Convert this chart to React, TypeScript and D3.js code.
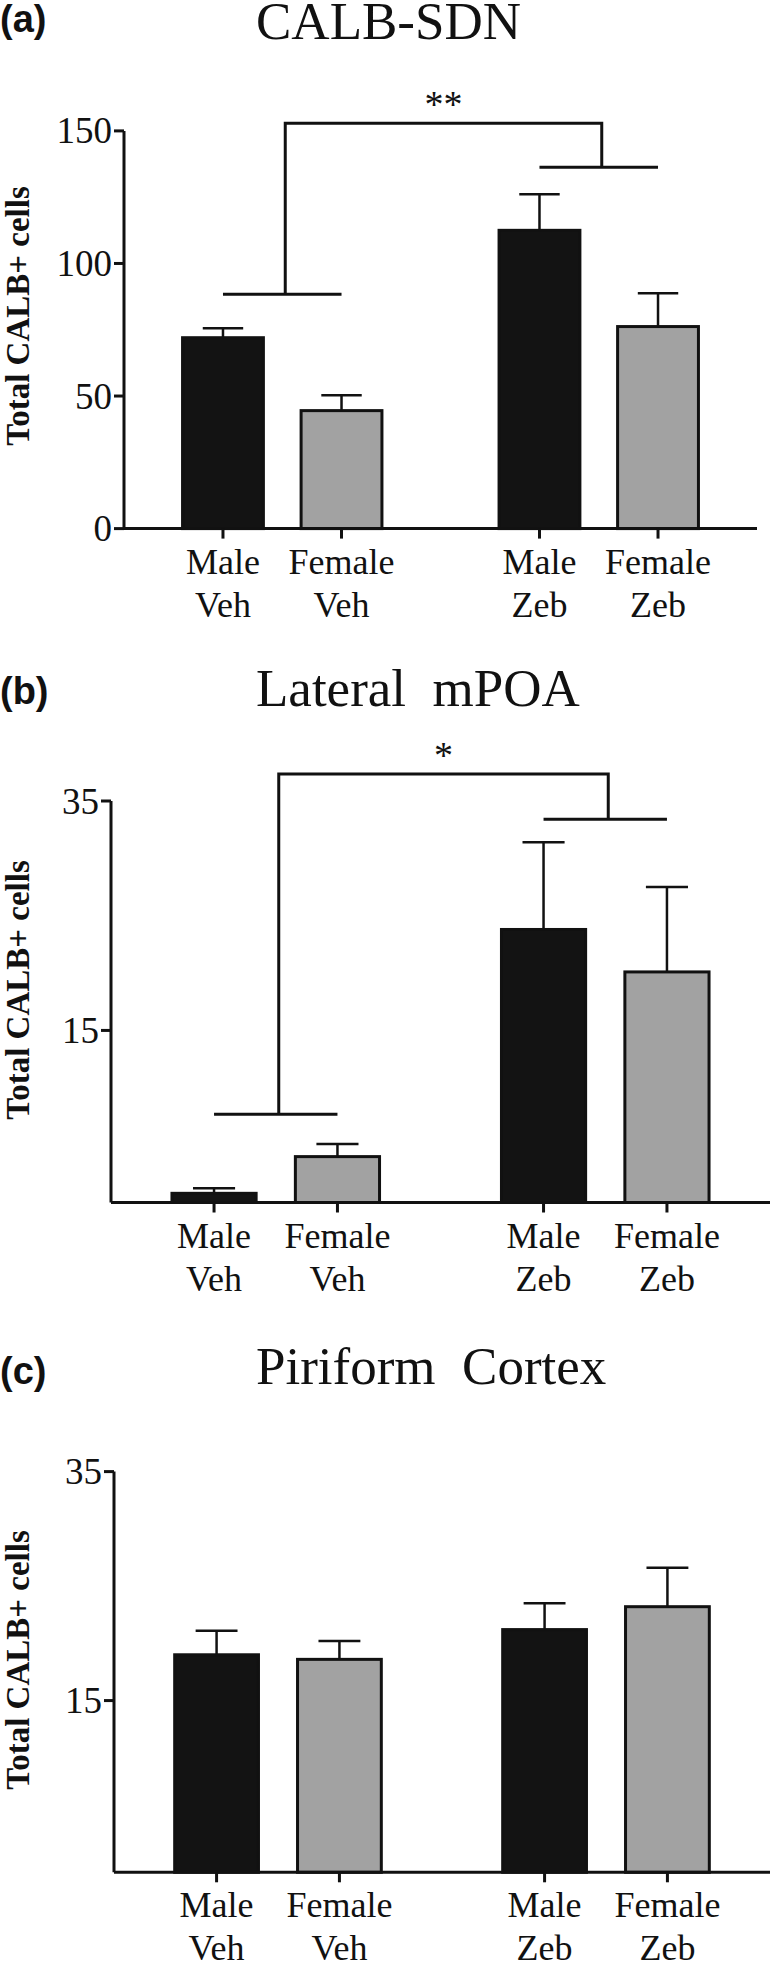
import * as d3 from 'd3'

const sexes = ['Male', 'Female']
const treatments = ['Veh', 'Zeb']

// (a) CALB-SDN
const calbSdnMeans = [72, 44.5, 112.5, 76.2]
const calbSdnErrors = [3.6, 5.8, 13.6, 12.6]
const calbSdnTicks = [0, 50, 100, 150]
const calbSdnBrackets = [88.4, 136.3, 152.9]

// (b) Lateral mPOA
const mpoaMeans = [0.8, 4.0, 23.8, 20.1]
const mpoaErrors = [0.45, 1.1, 7.6, 7.4]
const mpoaTicks = [15, 35]
const mpoaBrackets = [7.7, 33.4, 37.35]

// (c) Piriform Cortex
const piriformMeans = [19.0, 18.6, 21.2, 23.2]
const piriformErrors = [2.1, 1.6, 2.3, 3.4]
const piriformTicks = [15, 35]

const serif = '"Liberation Serif", "Times New Roman", serif'
const sans = '"Liberation Sans", Arial, sans-serif'
const ink = '#111'
const fills = ['#131313', '#a2a2a2']

function Panel(props) {
    const { letter, title, means, errors, ticks, brackets, stars, x0, x1, yZero, yTop, labelTop, labelY, titleY } = props

    const y = d3.scaleLinear().domain([0, d3.max(ticks)]).range([yZero, yTop])
    const outer = d3.scaleBand().domain(treatments).range([x0, x1])
    const inner = d3
        .scaleBand()
        .domain(sexes)
        .range([0, outer.bandwidth()])
        .paddingInner(0.318)
        .paddingOuter(0.494)

    const bars = treatments.flatMap((t, ti) =>
        sexes.map((s, si) => ({
            treatment: t,
            sex: s,
            index: si,
            mean: means[ti * 2 + si],
            err: errors[ti * 2 + si],
        }))
    )
    const center = (d) => outer(d.treatment) + inner(d.sex) + inner.bandwidth() / 2
    const capHalf = inner.bandwidth() * 0.25

    let bracketMarks = null
    if (brackets) {
        const [vehY, zebY, topY] = brackets.map(y)
        // the verticals sit a touch right of the group centres in the original
        const groupX = treatments.map((t) => outer(t) + outer.bandwidth() / 2 + 3)
        const ends = treatments.map((t) => [
            outer(t) + inner('Male') + inner.bandwidth() / 2,
            outer(t) + inner('Female') + inner.bandwidth() / 2,
        ])
        const path = d3.path()
        path.moveTo(ends[0][0], vehY)
        path.lineTo(ends[0][1], vehY)
        path.moveTo(groupX[0], vehY)
        path.lineTo(groupX[0], topY)
        path.lineTo(groupX[1], topY)
        path.lineTo(groupX[1], zebY)
        path.moveTo(ends[1][0], zebY)
        path.lineTo(ends[1][1], zebY)
        bracketMarks = (
            <g>
                <path d={path.toString()} fill="none" stroke={ink} strokeWidth={3} />
                <text
                    x={(groupX[0] + groupX[1]) / 2}
                    y={topY - 6}
                    textAnchor="middle"
                    fontFamily={serif}
                    fontSize={38}
                    fill={ink}
                >
                    {stars}
                </text>
            </g>
        )
    }

    return (
        <g>
            <text x={0} y={labelTop} fontFamily={sans} fontWeight="bold" fontSize={38} fill={ink}>
                {letter}
            </text>
            <text x={256} y={titleY} fontFamily={serif} fontSize={53} fill={ink} style={{ whiteSpace: 'pre' }}>
                {title}
            </text>

            {bars.map((d) => (
                <g key={d.treatment + d.sex}>
                    <line
                        x1={center(d)}
                        x2={center(d)}
                        y1={y(d.mean)}
                        y2={y(d.mean + d.err)}
                        stroke={ink}
                        strokeWidth={2.5}
                    />
                    <line
                        x1={center(d) - capHalf}
                        x2={center(d) + capHalf}
                        y1={y(d.mean + d.err)}
                        y2={y(d.mean + d.err)}
                        stroke={ink}
                        strokeWidth={2.5}
                    />
                    <rect
                        x={outer(d.treatment) + inner(d.sex)}
                        y={y(d.mean)}
                        width={inner.bandwidth()}
                        height={yZero - y(d.mean)}
                        fill={fills[d.index]}
                        stroke={ink}
                        strokeWidth={3}
                    />
                </g>
            ))}

            {/* y axis */}
            <line x1={x0} x2={x0} y1={yTop} y2={yZero} stroke={ink} strokeWidth={3} />
            {ticks.map((t) => (
                <g key={t}>
                    <line x1={x0 - 10} x2={x0} y1={y(t)} y2={y(t)} stroke={ink} strokeWidth={3} />
                    <text
                        x={x0 - 12}
                        y={y(t)}
                        dy="0.34em"
                        textAnchor="end"
                        fontFamily={serif}
                        fontSize={37}
                        fill={ink}
                    >
                        {t}
                    </text>
                </g>
            ))}
            <text
                transform={`translate(29, ${labelY}) rotate(-90)`}
                textAnchor="middle"
                fontFamily={serif}
                fontWeight="bold"
                fontSize={33}
                fill={ink}
            >
                Total CALB+ cells
            </text>

            {/* x axis */}
            <line x1={x0} x2={x1} y1={yZero} y2={yZero} stroke={ink} strokeWidth={3} />
            {bars.map((d) => (
                <g key={'tick' + d.treatment + d.sex}>
                    <line x1={center(d)} x2={center(d)} y1={yZero} y2={yZero + 10} stroke={ink} strokeWidth={3} />
                    <text x={center(d)} y={yZero + 45} textAnchor="middle" fontFamily={serif} fontSize={36} fill={ink}>
                        {d.sex}
                    </text>
                    <text x={center(d)} y={yZero + 88} textAnchor="middle" fontFamily={serif} fontSize={36} fill={ink}>
                        {d.treatment}
                    </text>
                </g>
            ))}

            {bracketMarks}
        </g>
    )
}

export default function App() {
    return (
        <svg
            width={770}
            height={1961}
            style={{ position: 'absolute', left: 0, top: 0, display: 'block', background: '#fff' }}
        >
            <rect width={770} height={1961} fill="#fff" />
            <Panel
                letter="(a)"
                title="CALB-SDN"
                means={calbSdnMeans}
                errors={calbSdnErrors}
                ticks={calbSdnTicks}
                brackets={calbSdnBrackets}
                stars="**"
                x0={124}
                x1={757}
                yZero={528.6}
                yTop={130.9}
                labelTop={32}
                titleY={39}
                labelY={316}
            />
            <Panel
                letter="(b)"
                title="Lateral  mPOA"
                means={mpoaMeans}
                errors={mpoaErrors}
                ticks={mpoaTicks}
                brackets={mpoaBrackets}
                stars="*"
                x0={111}
                x1={770}
                yZero={1202.5}
                yTop={801}
                labelTop={704}
                titleY={706}
                labelY={990}
            />
            <Panel
                letter="(c)"
                title="Piriform  Cortex"
                means={piriformMeans}
                errors={piriformErrors}
                ticks={piriformTicks}
                x0={114}
                x1={770}
                yZero={1872.3}
                yTop={1471.6}
                labelTop={1384}
                titleY={1384}
                labelY={1660}
            />
        </svg>
    )
}
